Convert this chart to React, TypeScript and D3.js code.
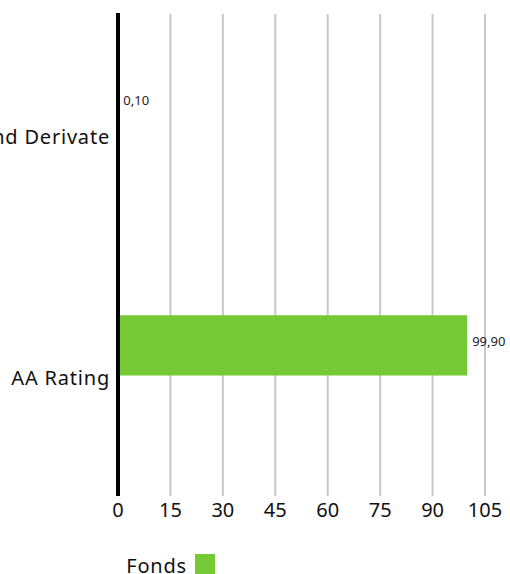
import * as d3 from "d3";

const categories = ["Kasse und Derivate", "AA Rating"];
const series = ["Fonds", "Benchmark"];
const fondsValues = [0.1, 99.9];
const xTicks = [0, 15, 30, 45, 60, 75, 90, 105];

const width = 510;
const height = 574;
const margin = { top: 14, right: 25, bottom: 78, left: 118 };
const green = "#74c935";
const font = "'Noto Sans', sans-serif";

const fmt = (v: number) => v.toFixed(2).replace(".", ",");

const App = () => {
  const x = d3
    .scaleLinear()
    .domain([0, 105])
    .range([margin.left, width - margin.right]);

  const y = d3
    .scaleBand()
    .domain(categories)
    .range([margin.top, height - margin.bottom])
    .paddingInner(0.5)
    .paddingOuter(0.25);

  // grouped slot per category; only the Fonds series has data
  const inner = d3.scaleBand().domain(series).range([0, y.bandwidth()]);

  const bottom = height - margin.bottom;

  return (
    <svg
      width={width}
      height={height}
      style={{ position: "absolute", left: 0, top: 0, display: "block" }}
      fontFamily={font}
    >
      {/* grid */}
      {xTicks.slice(1).map((t) => (
        <line
          key={t}
          x1={x(t)}
          x2={x(t)}
          y1={margin.top}
          y2={bottom}
          stroke="#c8c8c8"
          strokeWidth={2}
        />
      ))}

      {/* bars */}
      {categories.map((c, i) => {
        const y0 = (y(c) ?? 0) + (inner("Fonds") ?? 0);
        const bh = inner.bandwidth();
        return (
          <g key={c}>
            <rect
              x={x(0)}
              y={y0}
              width={x(fondsValues[i]) - x(0)}
              height={bh}
              fill={green}
            />
            <text
              x={x(fondsValues[i]) + 5}
              y={y0 + bh / 2 - 4}
              dy="0.35em"
              fontSize={13}
              fill="#222"
            >
              {fmt(fondsValues[i])}
            </text>
          </g>
        );
      })}

      {/* y axis */}
      <line x1={x(0)} x2={x(0)} y1={margin.top - 1} y2={bottom} stroke="#000" strokeWidth={4} />
      {categories.map((c) => (
        <text
          key={c}
          x={margin.left - 8}
          y={(y(c) ?? 0) + y.bandwidth() / 2 + 2}
          dy="0.35em"
          textAnchor="end"
          fontSize={20}
          letterSpacing={0.8}
          fill="#111"
        >
          {c}
        </text>
      ))}

      {/* x tick labels */}
      {xTicks.map((t) => (
        <text
          key={t}
          x={x(t)}
          y={bottom + 14}
          dy="0.35em"
          textAnchor="middle"
          fontSize={20}
          fill="#111"
        >
          {t}
        </text>
      ))}

      {/* legend */}
      <text x={187} y={566} dy="0.35em" textAnchor="end" fontSize={20} letterSpacing={0.8} fill="#111">
        Fonds
      </text>
      <rect x={195} y={554} width={20} height={20} fill={green} />
    </svg>
  );
};

export default App;
